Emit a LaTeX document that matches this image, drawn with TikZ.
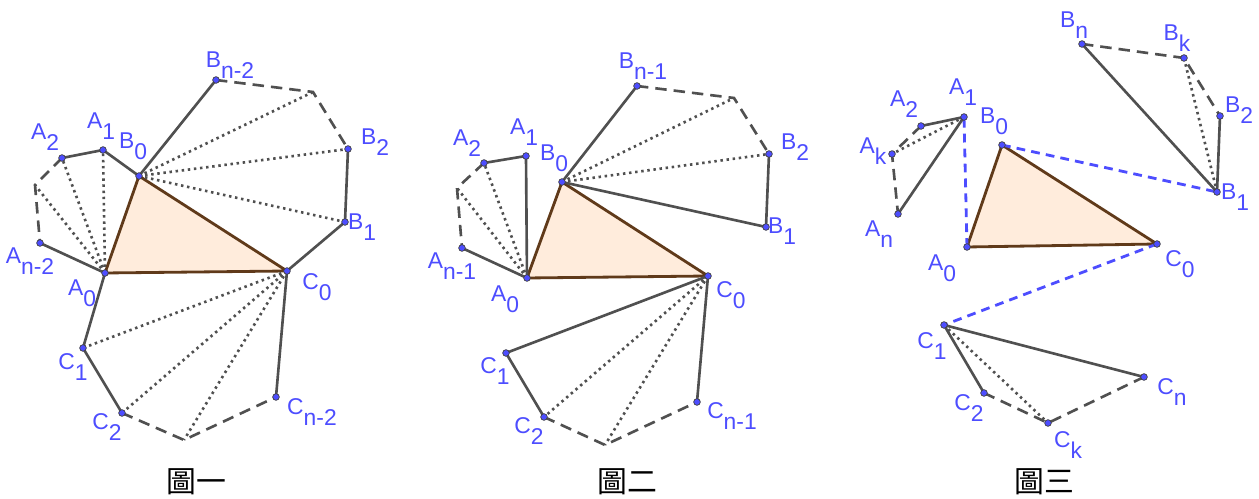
\documentclass[tikz,border=0pt]{standalone}
\usepackage{fontspec}
\setmainfont{Liberation Sans}
\newfontfamily\cjk{Noto Sans CJK TC}
\definecolor{ptblue}{RGB}{77,77,255}
\definecolor{segray}{RGB}{80,80,80}
\definecolor{trifill}{RGB}{255,236,220}
\definecolor{triedge}{RGB}{96,58,26}
\newcommand{\pn}[2]{#1\raisebox{-0.48em}{#2}}

\begin{document}
\begin{tikzpicture}[x=0.02cm, y=-0.02cm,
    seg/.style={draw=segray, line width=1.5pt},
    dsh/.style={draw=segray, line width=1.5pt, dash pattern=on 6.5pt off 4pt},
    dot/.style={draw=segray, line width=1.5pt, dash pattern=on 1.4pt off 2.1pt},
    bdsh/.style={draw=ptblue, line width=1.6pt, dash pattern=on 5pt off 3.5pt},
    tri/.style={fill=trifill, draw=triedge, line width=1.6pt, line join=round},
    pt/.style={circle, fill=ptblue, draw=black!75, line width=0.4pt, inner sep=0pt, minimum size=3.8pt},
    lbl/.style={text=ptblue, inner sep=0pt, font=\fontsize{13}{15}\selectfont},
    figcap/.style={inner sep=0pt, font=\cjk\fontsize{17}{20}\selectfont}]
    \useasboundingbox (0,0) rectangle (1259,499);

    % 圖一
    \coordinate (I-A0) at (105,273); \coordinate (I-B0) at (139,176); \coordinate (I-C0) at (287,271);
    \coordinate (I-A1) at (103,150); \coordinate (I-A2) at (62,158);  \coordinate (I-Ax) at (35,185);  \coordinate (I-An) at (40,243);
    \coordinate (I-Bn) at (216,80);  \coordinate (I-Bx) at (313,92);  \coordinate (I-B2) at (348,149); \coordinate (I-B1) at (345,222);
    \coordinate (I-C1) at (83,348);  \coordinate (I-C2) at (122,413); \coordinate (I-Cx) at (184,440); \coordinate (I-Cn) at (276,397);
    \filldraw[tri] (I-A0) -- (I-B0) -- (I-C0) -- cycle;
    \foreach \p in {A1,A2,Ax} \draw[dot] (I-A0) -- (I-\p);
    \foreach \p in {Bx,B2,B1} \draw[dot] (I-B0) -- (I-\p);
    \foreach \p in {C1,C2,Cx} \draw[dot] (I-C0) -- (I-\p);
    \draw[dsh] (I-A2) -- (I-Ax) -- (I-An);
    \draw[dsh] (I-Bn) -- (I-Bx) -- (I-B2);
    \draw[dsh] (I-C2) -- (I-Cx) -- (I-Cn);
    \draw[seg] (I-An) -- (I-A0) -- (I-C1) -- (I-C2);
    \draw[seg] (I-A2) -- (I-A1) -- (I-B0) -- (I-Bn);
    \draw[seg] (I-B2) -- (I-B1) -- (I-C0) -- (I-Cn);
    \foreach \p in {A0,B0,C0,A1,A2,An,Bn,B2,B1,C1,C2,Cn} \node[pt] (I-d\p) at (I-\p) {};
    \node[lbl] (I-lA2) at (45,137)  {\pn{A}{2}};
    \node[lbl] (I-lA1) at (101,126) {\pn{A}{1}};
    \node[lbl] (I-lB0) at (133,146) {\pn{B}{0}};
    \node[lbl] (I-lBn) at (230,65)  {\pn{B}{n-2}};
    \node[lbl] (I-lB2) at (375,142) {\pn{B}{2}};
    \node[lbl] (I-lB1) at (362,227) {\pn{B}{1}};
    \node[lbl] (I-lAn) at (30,261)  {\pn{A}{n-2}};
    \node[lbl] (I-lA0) at (82,293)  {\pn{A}{0}};
    \node[lbl] (I-lC0) at (317,287) {\pn{C}{0}};
    \node[lbl] (I-lC1) at (73,367)  {\pn{C}{1}};
    \node[lbl] (I-lC2) at (107,427) {\pn{C}{2}};
    \node[lbl] (I-lCn) at (312,412) {\pn{C}{n-2}};
    \node[figcap] (cap-I) at (196,482) {圖一};

    % 圖二
    \coordinate (II-A0) at (527,278); \coordinate (II-B0) at (562,182); \coordinate (II-C0) at (708,276);
    \coordinate (II-A1) at (526,156); \coordinate (II-A2) at (484,163); \coordinate (II-Ax) at (457,188); \coordinate (II-An) at (462,248);
    \coordinate (II-Bn) at (637,86);  \coordinate (II-Bx) at (734,98);  \coordinate (II-B2) at (769,154); \coordinate (II-B1) at (766,227);
    \coordinate (II-C1) at (506,353); \coordinate (II-C2) at (544,417); \coordinate (II-Cx) at (605,445); \coordinate (II-Cn) at (697,402);
    \filldraw[tri] (II-A0) -- (II-B0) -- (II-C0) -- cycle;
    \foreach \p in {A2,Ax} \draw[dot] (II-A0) -- (II-\p);
    \foreach \p in {Bx,B2} \draw[dot] (II-B0) -- (II-\p);
    \foreach \p in {C2,Cx} \draw[dot] (II-C0) -- (II-\p);
    \draw[dsh] (II-A2) -- (II-Ax) -- (II-An);
    \draw[dsh] (II-Bn) -- (II-Bx) -- (II-B2);
    \draw[dsh] (II-C2) -- (II-Cx) -- (II-Cn);
    \draw[seg] (II-An) -- (II-A0) -- (II-A1) -- (II-A2);
    \draw[seg] (II-Bn) -- (II-B0) -- (II-B1) -- (II-B2);
    \draw[seg] (II-C2) -- (II-C1) -- (II-C0) -- (II-Cn);
    \foreach \p in {A0,B0,C0,A1,A2,An,Bn,B2,B1,C1,C2,Cn} \node[pt] (II-d\p) at (II-\p) {};
    \node[lbl] (II-lA2) at (467,143) {\pn{A}{2}};
    \node[lbl] (II-lA1) at (524,132) {\pn{A}{1}};
    \node[lbl] (II-lB0) at (554,158) {\pn{B}{0}};
    \node[lbl] (II-lBn) at (643,66)  {\pn{B}{n-1}};
    \node[lbl] (II-lB2) at (795,147) {\pn{B}{2}};
    \node[lbl] (II-lB1) at (782,231) {\pn{B}{1}};
    \node[lbl] (II-lAn) at (452,266) {\pn{A}{n-1}};
    \node[lbl] (II-lA0) at (505,299) {\pn{A}{0}};
    \node[lbl] (II-lC0) at (731,295) {\pn{C}{0}};
    \node[lbl] (II-lC1) at (495,371) {\pn{C}{1}};
    \node[lbl] (II-lC2) at (529,431) {\pn{C}{2}};
    \node[lbl] (II-lCn) at (732,416) {\pn{C}{n-1}};
    \node[figcap] (cap-II) at (627,482) {圖二};

    % 圖三
    \coordinate (III-A0) at (967,247);  \coordinate (III-B0) at (1002,145); \coordinate (III-C0) at (1157,244);
    \coordinate (III-A1) at (964,117);  \coordinate (III-A2) at (921,126);  \coordinate (III-Ak) at (892,154);  \coordinate (III-An) at (898,214);
    \coordinate (III-Bn) at (1082,44);  \coordinate (III-Bk) at (1184,58);  \coordinate (III-B2) at (1220,116); \coordinate (III-B1) at (1217,192);
    \coordinate (III-C1) at (944,325);  \coordinate (III-C2) at (984,393);  \coordinate (III-Ck) at (1048,423); \coordinate (III-Cn) at (1144,377);
    \filldraw[tri] (III-A0) -- (III-B0) -- (III-C0) -- cycle;
    \draw[bdsh] (III-A0) -- (III-A1);
    \draw[bdsh] (III-B0) -- (III-B1);
    \draw[bdsh] (III-C0) -- (III-C1);
    \draw[dot] (III-A1) -- (III-Ak);
    \draw[dot] (III-B1) -- (III-Bk);
    \draw[dot] (III-C1) -- (III-Ck);
    \draw[dsh] (III-A2) -- (III-Ak) -- (III-An);
    \draw[dsh] (III-Bn) -- (III-Bk) -- (III-B2);
    \draw[dsh] (III-C2) -- (III-Ck) -- (III-Cn);
    \draw[seg] (III-A2) -- (III-A1) -- (III-An);
    \draw[seg] (III-Bn) -- (III-B1) -- (III-B2);
    \draw[seg] (III-C2) -- (III-C1) -- (III-Cn);
    \foreach \p in {A0,B0,C0,A1,A2,Ak,An,Bn,Bk,B2,B1,C1,C2,Ck,Cn} \node[pt] (III-d\p) at (III-\p) {};
    \node[lbl] (III-lBn) at (1074,25)  {\pn{B}{n}};
    \node[lbl] (III-lBk) at (1177,38)  {\pn{B}{k}};
    \node[lbl] (III-lA1) at (963,92)   {\pn{A}{1}};
    \node[lbl] (III-lA2) at (904,104)  {\pn{A}{2}};
    \node[lbl] (III-lB0) at (994,121)  {\pn{B}{0}};
    \node[lbl] (III-lB2) at (1239,110) {\pn{B}{2}};
    \node[lbl] (III-lAk) at (873,151)  {\pn{A}{k}};
    \node[lbl] (III-lB1) at (1235,197) {\pn{B}{1}};
    \node[lbl] (III-lAn) at (879,234)  {\pn{A}{n}};
    \node[lbl] (III-lA0) at (942,268)  {\pn{A}{0}};
    \node[lbl] (III-lC0) at (1180,264) {\pn{C}{0}};
    \node[lbl] (III-lC1) at (932,346)  {\pn{C}{1}};
    \node[lbl] (III-lCn) at (1172,392) {\pn{C}{n}};
    \node[lbl] (III-lC2) at (969,408)  {\pn{C}{2}};
    \node[lbl] (III-lCk) at (1068,445) {\pn{C}{k}};
    \node[figcap] (cap-III) at (1044,482) {圖三};
\end{tikzpicture}
\end{document}
